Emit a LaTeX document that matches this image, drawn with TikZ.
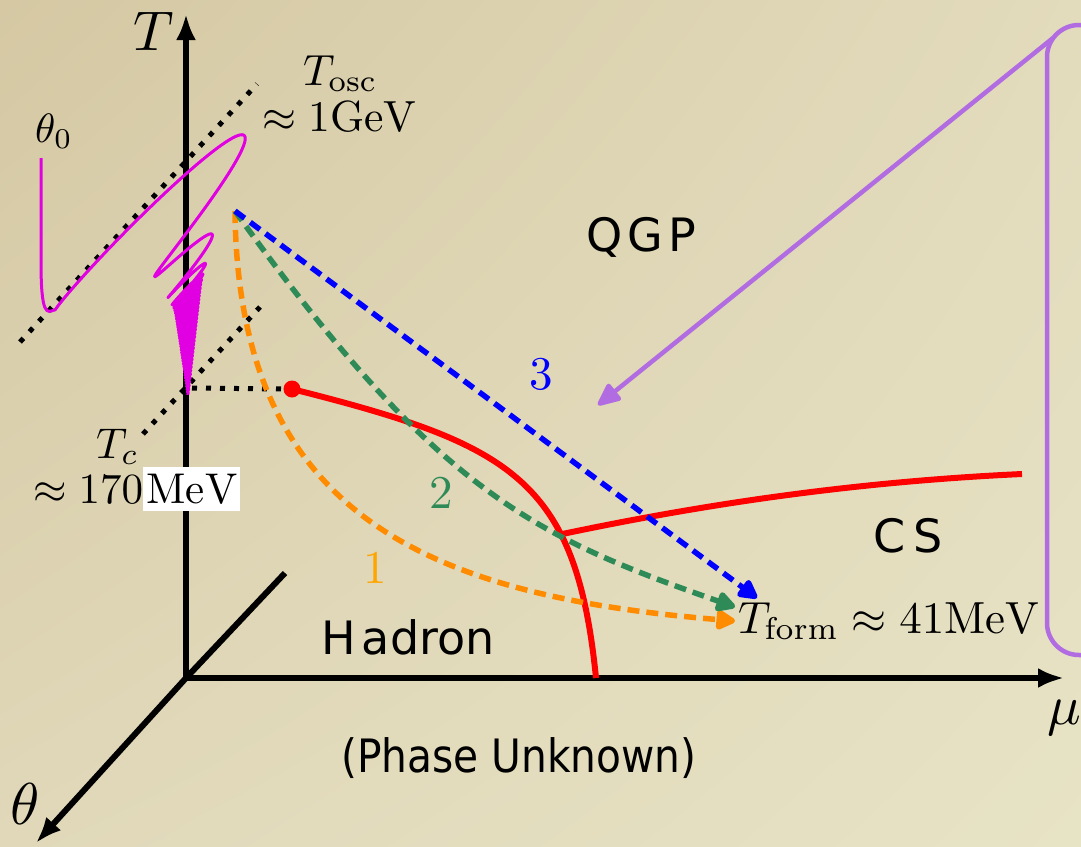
\documentclass[tikz,border=0pt]{standalone}
\usepackage{fix-cm}
\usepackage{fontspec}
\usepackage{graphicx}
\usetikzlibrary{arrows.meta,shadings}
\newfontfamily\dejavu{DejaVu Sans}
\definecolor{bgUL}{RGB}{213,200,163}
\definecolor{bgUR}{RGB}{226,219,188}
\definecolor{bgLL}{RGB}{224,216,185}
\definecolor{bgLR}{RGB}{231,227,197}
\definecolor{orangeC}{RGB}{255,140,0}
\definecolor{orangeT}{RGB}{255,165,0}
\definecolor{greenC}{RGB}{46,139,87}
\definecolor{blueC}{RGB}{0,0,255}
\definecolor{redC}{RGB}{255,0,0}
\definecolor{magC}{RGB}{225,0,225}
\definecolor{purpC}{RGB}{178,108,226}
\begin{document}
\begin{tikzpicture}[x=1pt,y=-1pt,
  axisline/.style={line width=6pt,black},
  axisarrow/.style={axisline,-{Latex[length=26pt,width=20pt]}},
  dotline/.style={line width=5pt,black,dash pattern=on 5pt off 9pt},
  redline/.style={line width=6pt,redC},
  dasharrow/.style={line width=5.5pt,dash pattern=on 12pt off 7pt,-{Triangle[length=22pt,width=22pt,round]}},
  purpline/.style={line width=4.5pt,purpC},
  magline/.style={line width=3pt,magC,line join=round},
  declare function={ampf(\k)=(22+120*exp(-1.5*min(\k,15))+55*exp(-0.45*min(\k,30)))*(1-\k/70);
                    ycf(\k)=165+115*(1-exp(-min(\k,15)*sqrt(sqrt(min(\k,15)))/2.4))+1.64*\k;}
]
\useasboundingbox (0,0) rectangle (1081,846);
\clip (0,0) rectangle (1081,846);
\shade[upper left=bgUL,upper right=bgUR,lower left=bgLL,lower right=bgLR] (0pt,0pt) rectangle (1081pt,-846pt);

% coordinates
\coordinate (O) at (186,678);
\coordinate (Ttip) at (186,14);
\coordinate (Mtip) at (1064,678);
\coordinate (Thtip) at (36,843);
\coordinate (Thback) at (285,573);
\coordinate (oscA) at (20,342);
\coordinate (oscB) at (257,84);
\coordinate (tcA) at (143,434);
\coordinate (tcB) at (260,307);
\coordinate (tcAx) at (192,388);
\coordinate (S) at (235,211);
\coordinate (Eo) at (735,621);
\coordinate (Eg) at (735,607);
\coordinate (Eb) at (757,598);
\coordinate (mu0) at (596,678);
\coordinate (csEnd) at (1022,474);
\coordinate (pStart) at (1053,38);
\coordinate (pEnd) at (598,405);

% purple box and arrow
\draw[purpline,rounded corners=32pt] (1047,25) rectangle (1200,655);
\draw[purpline,-{Triangle[length=26pt,width=22pt,round]}] (pStart) -- (pEnd);

% dotted lines
\draw[dotline] (oscA) -- (oscB);
\draw[dotline] (tcA) -- (tcB);

% axes
\draw[axisarrow] (O) -- (Ttip);
\draw[axisarrow] (O) -- (Mtip);
\draw[axisarrow] (O) -- (Thtip);
\draw[axisline] (O) -- (Thback);

% critical point and phase boundaries
\node[circle,fill=redC,inner sep=0pt,minimum size=17pt] (cp) at (292,389) {};
\draw[dotline] (tcAx) -- (cp.west);
\draw[redline] (cp.center) .. controls (510,444) and (576,478) .. coordinate[pos=0.69] (J) (mu0);
\draw[redline] (J) .. controls (700,505) and (850,482) .. (csEnd);

% dashed trajectories
\draw[dasharrow,orangeC] (S) .. controls (238,520) and (435,596) .. (Eo);
\draw[dasharrow,greenC] (S) .. controls (437,493) and (535,537) .. (Eg);
\draw[dasharrow,blueC] (S) -- (Eb);

% magenta theta curve
\draw[magline] (41,158) -- (41,262) .. controls (41,316) and (47,313) .. (54,310)
  -- plot[domain=0:70,samples=2801,variable=\k]
  ({188-ampf(\k)*cos(180*\k)*0.676},{ycf(\k)+ampf(\k)*cos(180*\k)*0.737-0.1*ampf(\k)*sin(180*\k)});

% labels
\node (Tlab) at (154,31) {\scalebox{5.6}{$T$}};
\node (thlab) at (25,804) {\scalebox{5.9}{$\theta$}};
\node (mulab) at (1064,718) {\scalebox{5.6}{$\mu$}};
\node[anchor=base west,inner sep=0pt] (th0) at (35,142) {\scalebox{4.1}{$\theta_0$}};
\node[anchor=base west,inner sep=0pt] (tosc) at (303,85) {\scalebox{4.36}{$T_{\mathrm{osc}}$}};
\node[anchor=base west,inner sep=0pt] (gev) at (262,131) {\scalebox{4.36}{$\approx 1\mathrm{GeV}$}};
\node[anchor=base west,inner sep=0pt] (tc) at (96,458) {\scalebox{4.3}{$T_c$}};
\node[anchor=base west,inner sep=0pt] (tcv) at (33,503) {\scalebox{4.3}{$\approx 170$}};
\node[anchor=base west,fill=white,inner ysep=0pt,inner xsep=3pt,text height=36pt,text depth=8pt] (mev) at (tcv.base east) {\scalebox{4.3}{$\mathrm{MeV}$}};
\node[anchor=base west,inner sep=0pt] (tform) at (738,633) {\scalebox{4.5}{$T_{\mathrm{form}}\approx 41\mathrm{MeV}$}};
\node[text=blueC] (n3) at (541,374) {\scalebox{4.7}{3}};
\node[text=greenC] (n2) at (441,493) {\scalebox{4.7}{2}};
\node[text=orangeT] (n1) at (375,568) {\scalebox{4.7}{1}};
\begin{scope}[every node/.style={font=\dejavu\fontsize{46}{50}\selectfont}]
\node (qgp) at (641,237) {Q\kern5pt G\kern5pt P};
\node (cs) at (908,536) {C\kern8pt S};
\node (had) at (408,637) {H\kern6pt adron};
\node (unk) at (519,758) {\scalebox{0.885}[1]{(Phase Unknown)}};
\end{scope}
\end{tikzpicture}
\end{document}
